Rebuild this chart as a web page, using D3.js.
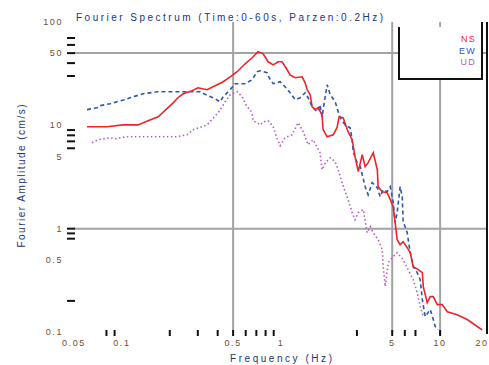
<!DOCTYPE html>
<html><head><meta charset="utf-8">
<script src="https://cdn.jsdelivr.net/npm/d3@7"></script>
<style>body{margin:0;background:#fff}svg{display:block}</style>
</head><body><svg id="c" width="489" height="365"></svg>
<script>
const nsF=[0.0604,0.0807,0.1016,0.1265,0.146,0.169,0.192,0.21,0.225,0.243,0.276,0.301,0.343,0.397,0.433,0.479,0.53,0.595,0.659,0.718,0.772,0.83,0.893,0.96,1.016,1.093,1.14,1.227,1.358,1.419,1.46,1.525,1.57,1.64,1.71,1.81,1.84,1.95,2.13,2.25,2.32,2.46,2.64,2.8,2.92,3.06,3.24,3.38,3.53,3.8,4.03,4.08,4.33,4.65,4.86,5.07,5.22,5.37,5.61,5.86,6.21,6.49,6.78,7.29,7.73,7.84,8.3,8.67,9.06,9.6,10.3,11.1,12.8,14.8,17.1,18.4];
const nsA=[9.69,9.69,10.1,10.1,11.1,12.1,14.5,16.5,18.5,20.2,21.6,23.1,22.1,24.7,26.4,29.5,33.0,39.4,45.1,51.5,49.2,41.2,38.5,41.2,41.2,34.5,30.8,28.9,29.5,25.8,22.1,19.8,15.1,14.2,14.8,12.7,9.06,7.76,8.11,9.48,12.1,11.8,8.67,7.26,4.97,3.56,5.2,3.98,4.35,5.43,3.72,2.55,2.28,2.23,1.91,1.63,1.14,0.783,0.70,0.748,0.655,0.586,0.429,0.401,0.375,0.275,0.192,0.22,0.22,0.184,0.184,0.157,0.147,0.132,0.113,0.105];
const ewF=[0.0604,0.0698,0.0729,0.0842,0.0932,0.1047,0.1125,0.136,0.166,0.222,0.31,0.348,0.374,0.414,0.433,0.479,0.515,0.595,0.659,0.708,0.74,0.818,0.842,0.893,0.988,1.06,1.14,1.227,1.32,1.419,1.48,1.57,1.69,1.76,1.81,1.95,2.04,2.19,2.29,2.36,2.53,2.72,2.8,2.84,3.01,3.15,3.38,3.53,3.74,4.03,4.2,4.39,4.65,4.86,5.07,5.22,5.37,5.61,5.78,5.86,6.21,6.49,6.78,7.18,7.5,7.73,8.06,8.67,9.06,9.32,9.73];
const ewA=[14.2,14.8,15.5,16.2,16.9,17.7,18.5,20.2,21.1,21.1,21.1,19.3,18.5,16.9,18.9,22.1,25.3,25.3,27.6,33.0,33.7,32.3,28.9,25.3,26.4,23.6,20.7,17.7,18.5,20.7,18.5,15.1,13.5,15.8,12.1,24.7,19.8,16.9,13.5,11.8,10.1,9.48,7.26,5.56,4.35,3.98,2.55,2.13,2.79,2.49,2.04,2.38,2.28,2.55,1.82,1.14,1.43,2.55,2.04,1.17,0.915,0.586,0.429,0.375,0.321,0.206,0.141,0.165,0.132,0.113,0.105];
const udF=[0.0649,0.0708,0.0842,0.0906,0.1077,0.174,0.222,0.257,0.28,0.319,0.343,0.402,0.426,0.445,0.479,0.53,0.57,0.612,0.64,0.659,0.668,0.74,0.772,0.83,0.893,0.946,0.988,1.06,1.175,1.28,1.38,1.48,1.59,1.76,1.81,1.9,2.04,2.19,2.29,2.42,2.53,2.64,2.8,2.92,3.06,3.29,3.48,3.64,3.8,4.08,4.33,4.39,4.52,4.72,5.0,5.37,5.86,6.3,6.78,7.18,7.5,7.84];
const udA=[6.79,7.26,7.59,7.42,7.76,7.76,7.76,8.11,9.06,9.69,10.1,13.2,15.1,16.9,19.8,21.1,18.9,15.1,14.2,12.7,11.1,10.1,10.8,11.1,9.69,7.42,6.35,7.59,8.11,10.6,8.67,6.49,7.26,5.43,3.72,4.35,4.86,4.45,3.72,2.79,2.28,1.91,1.43,1.22,1.43,1.53,0.915,1.045,0.915,0.783,0.627,0.429,0.275,0.469,0.524,0.586,0.501,0.401,0.321,0.240,0.176,0.141];
const seriesNames=["NS","EW","UD"];
const xTickLabels=[0.05,0.1,0.5,1,5,10,20];
const xTickMarks=[0.08,0.09,0.2,0.3,0.4,0.5,0.6,0.7,0.8,0.9,3,5,6,7,10];
const yTickLabels=[100,50,10,5,1,0.5,0.1];
const yTickMarks=[70,60,50,40,30,9,8,7,6,1,0.9,0.8,0.2];
const xGrid=[0.5,5,10], yGrid=[50,1];

const svg=d3.select("#c");
const x=d3.scaleLog().domain([0.05,20]).range([74,488]);
const y=d3.scaleLog().domain([0.1,100]).range([332,22]);
const gridC="#a3a3a3";
svg.selectAll(".gy").data(yGrid).enter().append("line").attr("x1",74).attr("x2",487).attr("y1",d=>y(d)).attr("y2",d=>y(d)).attr("stroke",gridC).attr("stroke-width",2);
svg.selectAll(".gx").data(xGrid).enter().append("line").attr("x1",d=>x(d)).attr("x2",d=>x(d)).attr("y1",22).attr("y2",333).attr("stroke",gridC).attr("stroke-width",2);

const cols=["#e8262b","#2b57b0","#b45cc2"];
const dashes=[null,"4,3","1.5,2.5"];
const data=[[nsF,nsA],[ewF,ewA],[udF,udA]];
const line=d3.line().x(d=>x(d[0])).y(d=>y(d[1]));
[2,1,0].forEach(i=>{
  const pts=data[i][0].map((f,j)=>[f,data[i][1][j]]);
  svg.append("path").attr("d",line(pts)).attr("fill","none").attr("stroke",cols[i]).attr("stroke-width",1.6).attr("stroke-dasharray",dashes[i]);
});

svg.append("line").attr("x1",487).attr("x2",487).attr("y1",22).attr("y2",334).attr("stroke","#111").attr("stroke-width",2);
svg.selectAll(".ty").data(yTickMarks).enter().append("line").attr("x1",67).attr("x2",75).attr("y1",d=>y(d)).attr("y2",d=>y(d)).attr("stroke","#111").attr("stroke-width",2);
svg.selectAll(".tx").data(xTickMarks).enter().append("line").attr("x1",d=>x(d)).attr("x2",d=>x(d)).attr("y1",330).attr("y2",336).attr("stroke","#111").attr("stroke-width",2);
const lblC="#6e4e2e", ttlC="#22357d";
svg.selectAll(".ly").data(yTickLabels).enter().append("text").attr("x",63).attr("y",d=>y(d)).attr("dy","0.35em").attr("text-anchor","end")
  .attr("font-family","Liberation Sans, Arial, sans-serif").attr("font-size",9).attr("letter-spacing",1.6).attr("fill",lblC).text(d=>d);
svg.selectAll(".lx").data(xTickLabels).enter().append("text").attr("x",d=>Math.min(x(d),482)).attr("y",346).attr("text-anchor","middle")
  .attr("font-family","Liberation Sans, Arial, sans-serif").attr("font-size",9).attr("letter-spacing",1.6).attr("fill",lblC).text(d=>d);
svg.append("text").attr("x",76).attr("y",21).attr("font-family","Liberation Sans, Arial, sans-serif").attr("font-size",10).attr("textLength",307).attr("lengthAdjust","spacing").attr("fill",ttlC).text("Fourier Spectrum (Time:0-60s, Parzen:0.2Hz)");
svg.append("text").attr("x",281).attr("y",362).attr("text-anchor","middle").attr("font-family","Liberation Sans, Arial, sans-serif").attr("font-size",10).attr("textLength",102).attr("lengthAdjust","spacing").attr("fill",ttlC).text("Frequency (Hz)");
svg.append("text").attr("transform","translate(25,176) rotate(-90)").attr("text-anchor","middle").attr("font-family","Liberation Sans, Arial, sans-serif").attr("font-size",10).attr("textLength",143).attr("lengthAdjust","spacing").attr("fill",ttlC).text("Fourier Amplitude (cm/s)");
svg.append("rect").attr("x",399).attr("y",27).attr("width",83).attr("height",52).attr("fill","#fff");
svg.append("path").attr("d","M399,27V79H482V22").attr("fill","none").attr("stroke","#111").attr("stroke-width",2);
seriesNames.forEach((n,i)=>{
  svg.append("text").attr("x",476).attr("y",39+i*11.5).attr("dy","0.35em").attr("text-anchor","end").attr("font-family","Liberation Sans, Arial, sans-serif").attr("font-size",9).attr("letter-spacing",1.2).attr("fill",cols[i]).text(n);
});
</script></body></html>
